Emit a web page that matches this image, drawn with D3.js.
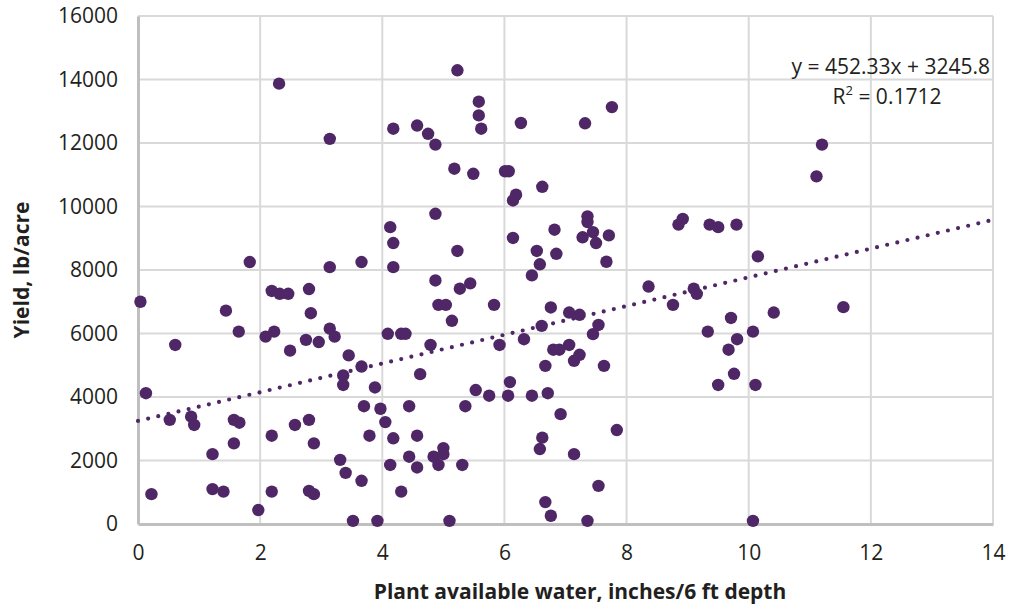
<!DOCTYPE html>
<html>
<head>
<meta charset="utf-8">
<script src="https://cdn.jsdelivr.net/npm/d3@7"></script>
<style>
  body { margin: 0; background: #fff; }
  svg { display: block; }
  .tick text { font-family: "Open Sans", sans-serif; fill: #231f20; }
</style>
</head>
<body>
<div id="scatter_chart"></div>
<script>
// plant available water (inches / 6 ft) and yield (lb/acre)
var waterVals = [
  0.04, 0.13, 0.22, 0.61, 0.52, 0.87, 0.92, 1.44, 1.22, 1.22,
  1.40, 1.65, 1.57, 1.66, 1.57, 1.97, 2.09, 2.23, 2.19, 2.32,
  2.46, 2.49, 2.19, 2.19, 2.57, 2.80, 2.83, 2.75, 2.96, 2.80,
  2.88, 2.80, 2.88, 3.14, 3.22, 2.31, 3.14, 1.83, 3.14, 5.23,
  5.58, 5.58, 5.62, 6.27, 4.18, 4.57, 4.75, 4.87, 5.18, 5.49,
  6.01, 6.07, 6.19, 6.14, 6.62, 4.87, 4.13, 4.18, 4.18, 3.66,
  5.23, 6.14, 6.82, 6.53, 6.85, 6.58, 6.45, 4.87, 5.27, 5.44,
  4.92, 5.04, 5.83, 6.76, 5.14, 4.09, 4.31, 4.38, 4.79, 5.92,
  6.32, 6.61, 6.80, 6.90, 3.45, 3.66, 3.36, 3.36, 3.88, 4.62,
  6.67, 6.09, 5.53, 5.75, 6.06, 6.45, 6.71, 6.92, 3.70, 3.97,
  4.44, 5.36, 4.05, 3.79, 4.18, 4.57, 6.62, 6.58, 3.31, 3.40,
  3.66, 4.13, 4.44, 4.57, 4.84, 5.00, 5.00, 4.92, 5.31, 4.31,
  3.52, 3.92, 5.10, 6.67, 6.76, 7.76, 7.32, 7.36, 7.36, 7.45,
  7.28, 7.71, 7.50, 7.67, 8.92, 8.85, 9.36, 9.50, 9.80, 10.15,
  8.36, 9.10, 9.15, 8.76, 7.06, 7.23, 7.54, 9.71, 10.41, 7.45,
  9.33, 10.07, 9.81, 9.67, 7.06, 7.23, 7.14, 7.63, 9.76, 9.50,
  10.11, 7.84, 7.14, 7.54, 7.36, 10.07, 11.20, 11.11, 11.55
];
var yieldVals = [
  7000, 4120, 940, 5640, 3280, 3380, 3120, 6720, 2200, 1100,
  1020, 6060, 3280, 3190, 2540, 440, 5900, 6060, 7340, 7250,
  7250, 5460, 2780, 1020, 3120, 7400, 6640, 5800, 5730, 3280,
  2540, 1040, 940, 6150, 5900, 13870, 12130, 8250, 8090, 14290,
  13300, 12870, 12450, 12630, 12450, 12550, 12290, 11950, 11190, 11030,
  11110, 11110, 10370, 10190, 10620, 9770, 9350, 8850, 8090, 8250,
  8600, 9010, 9270, 8600, 8510, 8180, 7830, 7670, 7410, 7580,
  6900, 6900, 6900, 6820, 6400, 5990, 5990, 5990, 5640, 5640,
  5820, 6240, 5490, 5490, 5310, 4960, 4680, 4380, 4300, 4720,
  4980, 4470, 4220, 4040, 4040, 4040, 4120, 3460, 3710, 3630,
  3710, 3710, 3210, 2780, 2700, 2780, 2720, 2360, 2020, 1610,
  1360, 1860, 2120, 1780, 2120, 2390, 2200, 1860, 1860, 1020,
  100, 100, 100, 690, 260, 13130, 12620, 9690, 9510, 9190,
  9030, 9090, 8850, 8260, 9610, 9430, 9430, 9350, 9430, 8430,
  7480, 7410, 7250, 6900, 6660, 6590, 6270, 6490, 6660, 5980,
  6060, 6060, 5820, 5490, 5640, 5330, 5140, 4980, 4730, 4380,
  4380, 2960, 2200, 1200, 100, 100, 11950, 10950, 6830
];

// linear trend reported on the chart
var trendSlope = 452.33;
var trendIntercept = 3245.8;
var trendLabel = "y = 452.33x + 3245.8";
var r2Value = "0.1712";

var xTicks = [0, 2, 4, 6, 8, 10, 12, 14];
var yTicks = [0, 2000, 4000, 6000, 8000, 10000, 12000, 14000, 16000];

var w = 1011;
var h = 610;
var margin = {top: 16, right: 18, bottom: 86, left: 138};
var width = w - margin.left - margin.right;
var height = h - margin.top - margin.bottom;

var purple = "#4f2767";

var svg = d3.select("#scatter_chart")
    .append("svg")
    .attr("width", w)
    .attr("height", h);

var g = svg.append("g")
    .attr("transform", "translate(" + margin.left + "," + margin.top + ")");

var x = d3.scaleLinear().domain([0, 14]).range([0, width]);
var y = d3.scaleLinear().domain([0, 16000]).range([height, 0]);

// grid lines
g.append("g")
    .selectAll("line")
    .data(yTicks.slice(1))
    .enter().append("line")
    .attr("x1", 0).attr("x2", width)
    .attr("y1", function(d) { return y(d); })
    .attr("y2", function(d) { return y(d); })
    .style("stroke", "#d9d9d9")
    .style("stroke-width", "2px");

g.append("g")
    .selectAll("line")
    .data(xTicks.slice(1))
    .enter().append("line")
    .attr("y1", 0).attr("y2", height)
    .attr("x1", function(d) { return x(d); })
    .attr("x2", function(d) { return x(d); })
    .style("stroke", "#d9d9d9")
    .style("stroke-width", "2px");

// axes
var xAxis = d3.axisBottom(x).tickValues(xTicks).tickSize(0).tickPadding(21).tickFormat(d3.format("d"));
var yAxis = d3.axisLeft(y).tickValues(yTicks).tickSize(0).tickPadding(20).tickFormat(d3.format("d"));

var gx = g.append("g")
    .attr("transform", "translate(0," + height + ")")
    .call(xAxis);
var gy = g.append("g").call(yAxis);

[gx, gy].forEach(function(a) {
    a.select(".domain").style("stroke", "#bfbfbf").style("stroke-width", "3px");
    a.selectAll(".tick text").style("font-size", "21px");
});

// trend line (dotted)
var trendLine = d3.line()
    .x(function(d) { return x(d); })
    .y(function(d) { return y(trendIntercept + trendSlope * d); });

g.append("path")
    .datum([0, 14])
    .attr("d", trendLine)
    .style("fill", "none")
    .style("stroke", purple)
    .style("stroke-width", "4.2px")
    .style("stroke-linecap", "round")
    .style("stroke-dasharray", "0 10.4");

// points
g.append("g")
    .selectAll("circle")
    .data(waterVals.map(function(v, i) { return [v, yieldVals[i]]; }))
    .enter().append("circle")
    .attr("cx", function(d) { return x(d[0]); })
    .attr("cy", function(d) { return y(d[1]); })
    .attr("r", 6.2)
    .style("fill", purple);

// equation label
var eq = svg.append("text")
    .attr("x", 990)
    .attr("y", 74)
    .attr("text-anchor", "end")
    .style("font-family", "'Open Sans', sans-serif")
    .style("font-size", "21px")
    .style("fill", "#231f20")
    .text(trendLabel);

var r2 = svg.append("text")
    .attr("x", 887)
    .attr("y", 104)
    .attr("text-anchor", "middle")
    .style("font-family", "'Open Sans', sans-serif")
    .style("font-size", "21px")
    .style("fill", "#231f20");
r2.append("tspan").text("R");
r2.append("tspan").attr("dy", -9).style("font-size", "13px").text("2");
r2.append("tspan").attr("dy", 9).text(" = " + r2Value);

// axis titles
svg.append("text")
    .attr("x", 580)
    .attr("y", 599)
    .attr("text-anchor", "middle")
    .style("font-family", "'Open Sans', sans-serif")
    .style("font-weight", "bold")
    .style("font-size", "21px")
    .style("fill", "#231f20")
    .text("Plant available water, inches/6 ft depth");

svg.append("text")
    .attr("transform", "translate(29,270) rotate(-90)")
    .attr("text-anchor", "middle")
    .style("font-family", "'Open Sans', sans-serif")
    .style("font-weight", "bold")
    .style("font-size", "21px")
    .style("fill", "#231f20")
    .text("Yield, lb/acre");
</script>
</body>
</html>
